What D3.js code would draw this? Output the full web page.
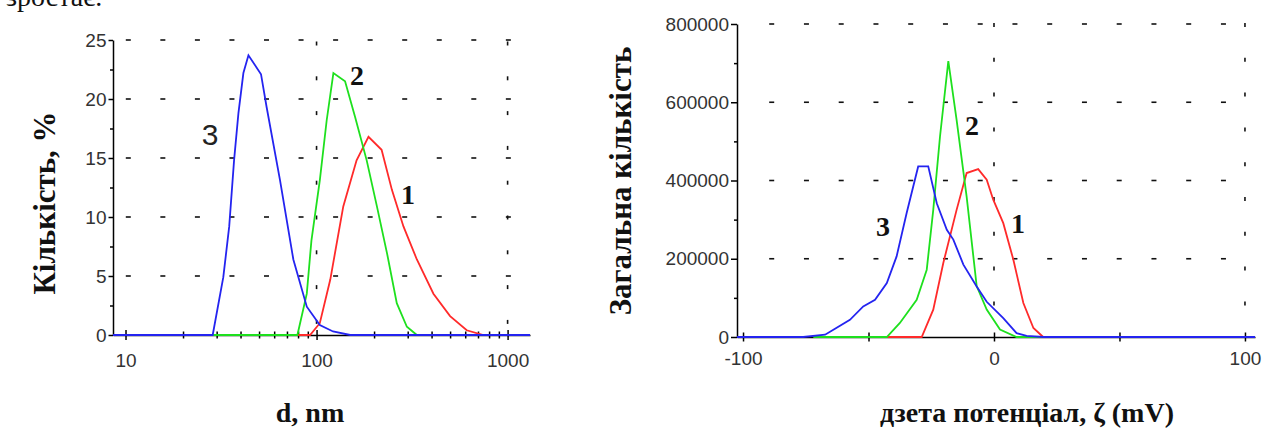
<!DOCTYPE html>
<html>
<head>
<meta charset="utf-8">
<script src="https://cdn.jsdelivr.net/npm/d3@7"></script>
<style>
  body { margin: 0; background: #fff; }
  svg { display: block; }
  .tick text { font-family: "Liberation Sans", Arial, sans-serif; font-size: 19px; fill: #333; }
  .axis path, .axis line { stroke: #000; stroke-width: 1.5; }
  .lbl { font-family: "Liberation Serif", "Times New Roman", serif; font-weight: bold; fill: #111; }
</style>
</head>
<body>
<div id="chart"></div>
<script>
// ---- left chart: size distribution (d, nm vs %)
var sizeD1 = [80, 92.5, 104, 118, 138, 162, 187, 219, 248, 285, 335, 409, 500, 611, 747, 1000];
var sizeN1 = [0, 0, 1.0, 4.7, 10.9, 14.8, 16.8, 15.7, 12.3, 9.2, 6.4, 3.5, 1.6, 0.4, 0, 0];
var sizeD2 = [28.6, 79.4, 88.9, 94, 104, 113, 122.5, 141, 159, 183, 207, 234, 263, 297, 335, 400];
var sizeN2 = [0, 0, 3.5, 8.0, 13.1, 18.2, 22.2, 21.5, 18.5, 14.8, 10.9, 6.9, 2.7, 0.7, 0, 0];
var sizeD3 = [8.6, 28.6, 32.5, 34.9, 37.0, 39.0, 41.4, 44.0, 51.2, 54.8, 64.4, 75.6, 88.9, 104, 122, 150, 1310];
var sizeN3 = [0, 0, 4.9, 9.2, 14.8, 18.8, 22.2, 23.7, 22.1, 19.3, 13.1, 6.4, 2.4, 0.85, 0.3, 0, 0];
var sizeYTicks = [0, 5, 10, 15, 20, 25];
var sizeXTicks = [10, 100, 1000];

// ---- right chart: zeta potential
var zetaX1 = [-45, -28.8, -24.2, -20.2, -14.9, -10.9, -6.3, -2.9, -0.3, 3.7, 7.7, 11.7, 15.7, 19.6, 22];
var zetaN1 = [0, 0, 70000, 189000, 325000, 419000, 429000, 402000, 351000, 291000, 198000, 87000, 23000, 0, 0];
var zetaX2 = [-72, -42.7, -37.5, -30.8, -26.8, -24.2, -21.5, -18.2, -14.9, -10.9, -6.9, -2.9, 2.4, 9, 22];
var zetaN2 = [0, 0, 36000, 95000, 172000, 325000, 513000, 705000, 555000, 359000, 130000, 70000, 19000, 0, 0];
var zetaX3 = [-102.4, -76, -67.3, -64, -57.4, -52.1, -47.4, -42.7, -38.8, -34.8, -30.2, -26.2, -22.8, -18.8, -16.2, -12.2, -6.9, -2.9, 3.7, 9.0, 13, 19.6, 104];
var zetaN3 = [0, 0, 6000, 18700, 44000, 78000, 95000, 138000, 206000, 317000, 436000, 436000, 342000, 274000, 249000, 185000, 129000, 90000, 48000, 10000, 3000, 0, 0];
var zetaYTicks = [0, 200000, 400000, 600000, 800000];
var zetaXTicks = [-100, -50, 0, 50, 100];

var colors = { 1: '#ff2a2a', 2: '#1ee01e', 3: '#2424f0' };

var svg = d3.select('#chart').append('svg')
    .attr('width', 1266)
    .attr('height', 428);

// partial line of text cut off at the top
svg.append('text')
    .attr('x', 6).attr('y', 6)
    .style('font-family', '"Liberation Serif", serif')
    .style('font-size', '28px')
    .attr('fill', '#111')
    .text('зростає.');

function zip(xs, ys) {
    return xs.map(function(x, i) { return [x, ys[i]]; });
}

function dashes(g, horizontal, fixed, start, step, count, len) {
    d3.range(count).forEach(function(k) {
        var c = start + k * step;
        g.append('line')
            .attr('x1', horizontal ? c - len / 2 : fixed)
            .attr('x2', horizontal ? c + len / 2 : fixed)
            .attr('y1', horizontal ? fixed : c - len / 2)
            .attr('y2', horizontal ? fixed : c + len / 2)
            .attr('stroke', '#111')
            .attr('stroke-width', 1.6);
    });
}

var plain = function(d) { return String(d); };

// ================= LEFT CHART =================
var xL = d3.scaleLog().domain([8.6, 1310]).range([113, 530]);
var yL = d3.scaleLinear().domain([0, 25]).range([335, 40]);

var gridL = svg.append('g');
sizeYTicks.slice(1).forEach(function(v) {
    dashes(gridL, true, yL(v), 128.3, 34.55, 12, 5);
});
[100, 1000].forEach(function(v) {
    dashes(gridL, false, xL(v), 43.5, 34.8, 9, 4);
});

// y axis
svg.append('g').attr('class', 'axis')
    .attr('transform', 'translate(113,0)')
    .call(d3.axisLeft(yL).tickValues(sizeYTicks).tickFormat(plain).tickSize(4.5).tickSizeOuter(0).tickPadding(2));
svg.append('g').attr('class', 'axis')
    .attr('transform', 'translate(113,0)')
    .call(d3.axisLeft(yL).tickValues([2.5, 7.5, 12.5, 17.5, 22.5]).tickSize(3).tickFormat(''))
    .select('.domain').remove();

// x axis
var minorL = [];
[10, 100].forEach(function(b) { d3.range(2, 10).forEach(function(m) { minorL.push(b * m); }); });
var xAxL = svg.append('g').attr('class', 'axis')
    .attr('transform', 'translate(0,335)')
    .call(d3.axisBottom(xL).tickValues(sizeXTicks).tickFormat(plain).tickSize(5).tickSizeOuter(0).tickPadding(14));
xAxL.selectAll('.tick line').attr('y1', -5);
var xMinL = svg.append('g').attr('class', 'axis')
    .attr('transform', 'translate(0,335)')
    .call(d3.axisBottom(xL).tickValues(minorL).tickSize(3.5).tickFormat(''));
xMinL.select('.domain').remove();
xMinL.selectAll('.tick line').attr('y1', -3.5);

var lineL = d3.line().x(function(d) { return xL(d[0]); }).y(function(d) { return yL(d[1]); });
[[sizeD1, sizeN1, 1], [sizeD2, sizeN2, 2], [sizeD3, sizeN3, 3]].forEach(function(s) {
    svg.append('path')
        .datum(zip(s[0], s[1]))
        .attr('d', lineL)
        .attr('fill', 'none')
        .attr('stroke', colors[s[2]])
        .attr('stroke-width', 1.8);
});

svg.append('text').attr('class', 'lbl')
    .attr('transform', 'translate(55,203) rotate(-90)')
    .attr('text-anchor', 'middle')
    .style('font-size', '31px')
    .text('Кількість, %');
svg.append('text').attr('class', 'lbl')
    .attr('x', 310).attr('y', 422)
    .attr('text-anchor', 'middle')
    .style('font-size', '28px')
    .text('d, nm');

svg.append('text').attr('x', 210).attr('y', 145)
    .attr('text-anchor', 'middle')
    .style('font-family', '"Liberation Sans", sans-serif')
    .style('font-size', '30px').attr('fill', '#222')
    .text('3');
svg.append('text').attr('class', 'lbl').attr('x', 357).attr('y', 85)
    .attr('text-anchor', 'middle').style('font-size', '28px').text('2');
svg.append('text').attr('class', 'lbl').attr('x', 408).attr('y', 204)
    .attr('text-anchor', 'middle').style('font-size', '28px').text('1');

// ================= RIGHT CHART =================
var xR = d3.scaleLinear().domain([-102.4, 104]).range([737, 1255]);
var yR = d3.scaleLinear().domain([0, 800000]).range([337, 24]);

var gridR = svg.append('g');
zetaYTicks.slice(1).forEach(function(v) {
    dashes(gridR, true, yR(v), 771.7, 34.75, 14, 5);
});
[0, 100].forEach(function(v) {
    dashes(gridR, false, xR(v), 25, 34.8, 9, 4);
});

svg.append('g').attr('class', 'axis')
    .attr('transform', 'translate(737,0)')
    .call(d3.axisLeft(yR).tickValues(zetaYTicks).tickFormat(plain).tickSize(6).tickSizeOuter(0).tickPadding(2));
svg.append('g').attr('class', 'axis')
    .attr('transform', 'translate(737,0)')
    .call(d3.axisLeft(yR).tickValues([100000, 300000, 500000, 700000]).tickSize(3).tickFormat(''))
    .select('.domain').remove();

var xAxR = svg.append('g').attr('class', 'axis')
    .attr('transform', 'translate(0,337)')
    .call(d3.axisBottom(xR).tickValues(zetaXTicks).tickFormat(plain).tickSize(4.5).tickSizeOuter(0).tickPadding(10));
xAxR.selectAll('.tick line').attr('y1', -4.5);
xAxR.selectAll('.tick').filter(function(d) { return d === -50 || d === 50; }).select('text').remove();

var lineR = d3.line().x(function(d) { return xR(d[0]); }).y(function(d) { return yR(d[1]); });
[[zetaX1, zetaN1, 1], [zetaX2, zetaN2, 2], [zetaX3, zetaN3, 3]].forEach(function(s) {
    svg.append('path')
        .datum(zip(s[0], s[1]))
        .attr('d', lineR)
        .attr('fill', 'none')
        .attr('stroke', colors[s[2]])
        .attr('stroke-width', 1.8);
});

svg.append('text').attr('class', 'lbl')
    .attr('transform', 'translate(631,181) rotate(-90)')
    .attr('text-anchor', 'middle')
    .style('font-size', '31px')
    .text('Загальна кількість');
svg.append('text').attr('class', 'lbl')
    .attr('x', 1027).attr('y', 422)
    .attr('text-anchor', 'middle')
    .style('font-size', '28px')
    .text('дзета потенціал, ζ (mV)');

svg.append('text').attr('class', 'lbl').attr('x', 883).attr('y', 236)
    .attr('text-anchor', 'middle').style('font-size', '28px').text('3');
svg.append('text').attr('class', 'lbl').attr('x', 972).attr('y', 135)
    .attr('text-anchor', 'middle').style('font-size', '28px').text('2');
svg.append('text').attr('class', 'lbl').attr('x', 1018).attr('y', 233)
    .attr('text-anchor', 'middle').style('font-size', '28px').text('1');
</script>
</body>
</html>
